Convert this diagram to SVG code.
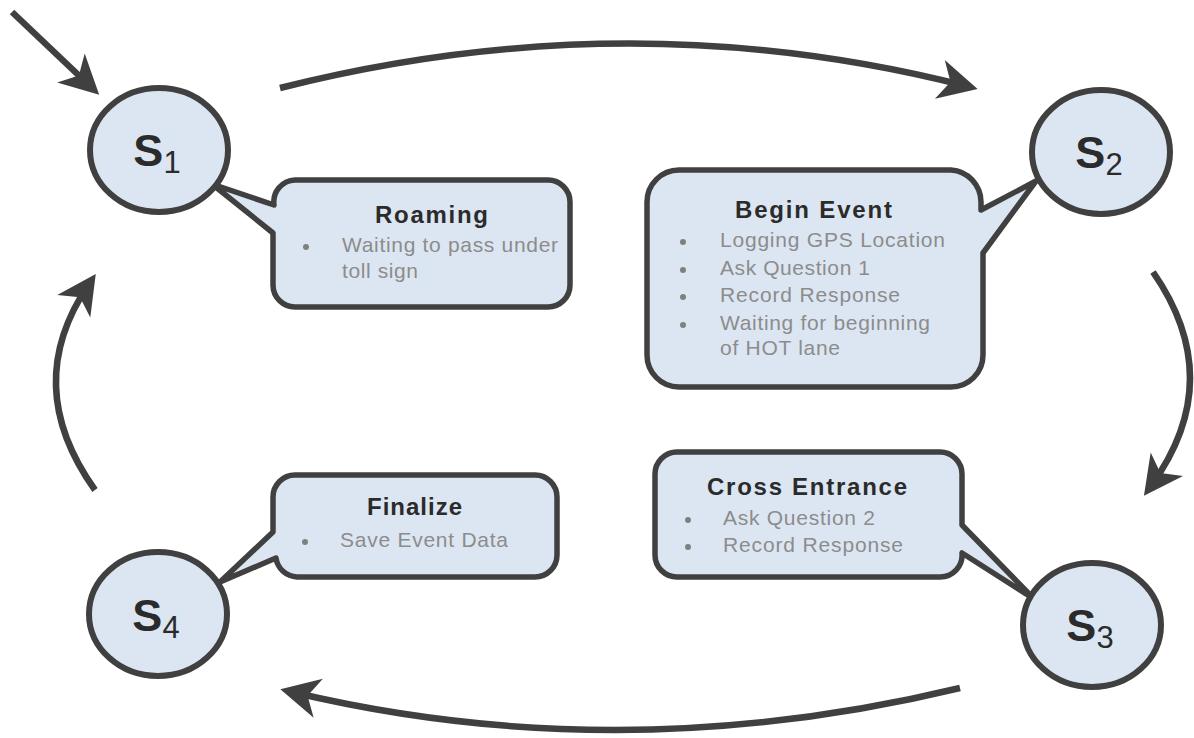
<svg xmlns="http://www.w3.org/2000/svg" width="1194" height="738" viewBox="0 0 1194 738">
<style>
.state{fill:#dce6f2;stroke:#404040;stroke-width:6}
.call{fill:#dce6f2;stroke:#404040;stroke-width:5.5;stroke-linejoin:round}
.lbl{font-family:"Liberation Sans",Arial,sans-serif;font-weight:bold;font-size:45px;fill:#2b2b2b;text-anchor:middle}
.sub{font-weight:normal;font-size:31px}
.title{font-family:"Liberation Sans",Arial,sans-serif;font-weight:bold;font-size:24px;fill:#2b2b2b}
.body{font-family:"Liberation Sans",Arial,sans-serif;font-size:21px;fill:#8c8c8c}
.dot{fill:#808080}
.edge{fill:none;stroke:#404040;stroke-width:6.5;marker-end:url(#ah)}
</style>
<defs>
<marker id="ah" markerUnits="userSpaceOnUse" orient="auto" markerWidth="80" markerHeight="80" refX="0" refY="0" overflow="visible">
<path d="M12,0 L-27,-20 L-16,0 L-27,20 Z" fill="#404040"/>
</marker>
</defs>
<rect width="1194" height="738" fill="#ffffff"/>
<g id="connectors">
<path class="edge" d="M12,12 L90.5,86.5"/>
<path class="edge" d="M280,88 Q628,0 966,86"/>
<path class="edge" d="M1153,272 Q1228,380 1151,486"/>
<path class="edge" d="M960,688 Q620,770 292,692"/>
<path class="edge" d="M95,490 Q20,385 89,284"/>
</g>
<g id="callout-roaming">
<path class="call" d="M295,180 H548 A22,22 0 0 1 570,202 V285 A22,22 0 0 1 548,307 H295 A22,22 0 0 1 273,285 V233 L212,184 L274,205 A22,22 0 0 1 295,180 Z"/>
<text class="title" x="375" y="223" textLength="113" lengthAdjust="spacing">Roaming</text>
<circle class="dot" cx="306" cy="247" r="3"/>
<text class="body" x="342" y="252" textLength="216" lengthAdjust="spacing">Waiting to pass under</text>
<text class="body" x="342" y="278" textLength="76" lengthAdjust="spacing">toll sign</text>
</g>
<g id="callout-begin">
<path class="call" d="M679,170 H951 A32,32 0 0 1 981,202 V210 L1036,181 L983,253 V355 A32,32 0 0 1 951,387 H679 A32,32 0 0 1 647,355 V202 A32,32 0 0 1 679,170 Z"/>
<text class="title" x="735" y="218" textLength="157" lengthAdjust="spacing">Begin Event</text>
<circle class="dot" cx="683" cy="242" r="3"/>
<circle class="dot" cx="683" cy="270" r="3"/>
<circle class="dot" cx="683" cy="297" r="3"/>
<circle class="dot" cx="683" cy="325" r="3"/>
<text class="body" x="720" y="247" textLength="225" lengthAdjust="spacing">Logging GPS Location</text>
<text class="body" x="720" y="275" textLength="150" lengthAdjust="spacing">Ask Question 1</text>
<text class="body" x="720" y="302" textLength="180" lengthAdjust="spacing">Record Response</text>
<text class="body" x="720" y="330" textLength="210" lengthAdjust="spacing">Waiting for beginning</text>
<text class="body" x="720" y="355" textLength="120" lengthAdjust="spacing">of HOT lane</text>
</g>
<g id="callout-cross">
<path class="call" d="M677,452 H940 A22,22 0 0 1 962,474 V525 L1034,599 L962,553 A22,22 0 0 1 940,577 H677 A22,22 0 0 1 655,555 V474 A22,22 0 0 1 677,452 Z"/>
<text class="title" x="707" y="495" textLength="200" lengthAdjust="spacing">Cross Entrance</text>
<circle class="dot" cx="688" cy="520" r="3"/>
<circle class="dot" cx="688" cy="547" r="3"/>
<text class="body" x="723" y="525" textLength="152" lengthAdjust="spacing">Ask Question 2</text>
<text class="body" x="723" y="552" textLength="180" lengthAdjust="spacing">Record Response</text>
</g>
<g id="callout-finalize">
<path class="call" d="M295,475 H535 A22,22 0 0 1 557,497 V555 A22,22 0 0 1 535,577 H297 A22,22 0 0 1 276,558 L220,582 L273,532 V497 A22,22 0 0 1 295,475 Z"/>
<text class="title" x="367" y="515" textLength="95" lengthAdjust="spacing">Finalize</text>
<circle class="dot" cx="305" cy="542" r="3"/>
<text class="body" x="340" y="547" textLength="168" lengthAdjust="spacing">Save Event Data</text>
</g>
<g id="s1">
<ellipse class="state" cx="159" cy="150" rx="69" ry="62"/>
<text class="lbl" x="157" y="166">S<tspan class="sub" dy="7">1</tspan></text>
</g>
<g id="s2">
<ellipse class="state" cx="1101" cy="152" rx="69" ry="62"/>
<text class="lbl" x="1099" y="168">S<tspan class="sub" dy="7">2</tspan></text>
</g>
<g id="s3">
<ellipse class="state" cx="1092" cy="625" rx="69" ry="62"/>
<text class="lbl" x="1090" y="641">S<tspan class="sub" dy="7">3</tspan></text>
</g>
<g id="s4">
<ellipse class="state" cx="158" cy="614" rx="69" ry="62"/>
<text class="lbl" x="156" y="631">S<tspan class="sub" dy="7">4</tspan></text>
</g>
</svg>
